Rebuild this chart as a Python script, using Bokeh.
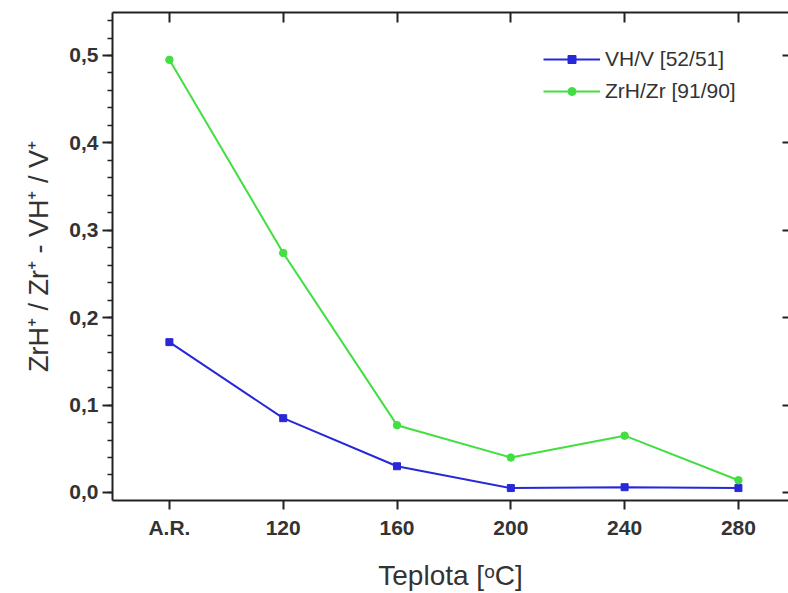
from bokeh.plotting import figure
from bokeh.models import (LinearAxis, FixedTicker, SingleIntervalTicker,
                          CustomJSTickFormatter, CustomLabelingPolicy,
                          Legend, LegendItem, Range1d)
from bokeh.embed import file_html
from bokeh.resources import INLINE

# ---- data ----
categories = ["A.R.", "120", "160", "200", "240", "280"]
vh_v = [0.172, 0.085, 0.030, 0.005, 0.006, 0.005]
zrh_zr = [0.495, 0.274, 0.077, 0.040, 0.065, 0.014]
series_names = ["VH/V [52/51]", "ZrH/Zr [91/90]"]
x_title = "Teplota [\u1d52C]"
y_title = "ZrH\u207a / Zr\u207a - VH\u207a / V\u207a"

x = list(range(len(categories)))

BLUE = "#2828d8"
GREEN = "#42de42"
AX = "#222222"
TXT = "#333333"
FONT = "Liberation Sans"

p = figure(width=788, height=593, output_backend="svg", toolbar_location=None,
           x_range=Range1d(-0.5, 5.44), y_range=Range1d(-0.0092, 0.5492),
           min_border_left=112, min_border_right=0, min_border_top=12,
           min_border_bottom=93)
p.outline_line_color = None
p.background_fill_color = "white"
p.border_fill_color = "white"
p.grid.visible = False

# bottom axis
xa = p.xaxis[0]
xa.ticker = FixedTicker(ticks=x)
xa.major_label_overrides = {i: c for i, c in zip(x, categories)}
xa.axis_label = x_title
# left axis
ya = p.yaxis[0]
ya.ticker = SingleIntervalTicker(interval=0.1, num_minor_ticks=5)
ya.formatter = CustomJSTickFormatter(code="return tick.toFixed(1).replace('.', ',');")
ya.axis_label = y_title

for ax in (xa, ya):
    ax.axis_line_color = AX
    ax.axis_line_width = 2
    ax.major_tick_line_color = AX
    ax.major_tick_line_width = 2
    ax.minor_tick_line_color = AX
    ax.minor_tick_line_width = 1.5
    ax.major_tick_in = 0
    ax.minor_tick_in = 0
    ax.major_label_text_font = FONT
    ax.major_label_text_font_style = "bold"
    ax.major_label_text_font_size = "21px"
    ax.major_label_text_color = TXT
    ax.axis_label_text_font = FONT
    ax.axis_label_text_font_style = "normal"
    ax.axis_label_text_color = TXT

xa.major_tick_out = 9
xa.minor_tick_out = 0
xa.major_label_standoff = 6
xa.axis_label_text_font_size = "28px"
xa.axis_label_standoff = 18

ya.major_tick_out = 10
ya.minor_tick_out = 5
ya.major_label_standoff = 4
ya.axis_label_text_font_size = "27px"
ya.axis_label_standoff = 12

# policy that draws no labels (mirror axes carry ticks only)
no_labels = CustomLabelingPolicy(code="for (const i of indices) { indices.unset(i) } return indices")

# top axis: line + inward ticks
top = LinearAxis(ticker=FixedTicker(ticks=x), major_label_policy=no_labels,
                 major_label_standoff=0, major_tick_in=10, major_tick_out=0,
                 minor_tick_in=0, minor_tick_out=0, axis_line_color=AX,
                 axis_line_width=2, major_tick_line_color=AX, major_tick_line_width=2,
                 major_label_text_font_size="0px")
p.add_layout(top, "above")

# right axis: inward ticks only (frame edge cut off in reference)
right = LinearAxis(ticker=SingleIntervalTicker(interval=0.1, num_minor_ticks=0),
                   major_label_policy=no_labels, major_label_standoff=0,
                   major_tick_in=6, major_tick_out=0, minor_tick_in=0, minor_tick_out=0,
                   axis_line_color=None, major_tick_line_color=AX,
                   major_tick_line_width=2, major_label_text_font_size="0px")
p.add_layout(right, "right")

# series
l1 = p.line(x, vh_v, line_color=BLUE, line_width=2)
m1 = p.scatter(x, vh_v, marker="square", size=7, fill_color=BLUE, line_color=BLUE)
l2 = p.line(x, zrh_zr, line_color=GREEN, line_width=2)
m2 = p.scatter(x, zrh_zr, marker="circle", size=7.5, fill_color=GREEN, line_color=GREEN)

legend = Legend(items=[LegendItem(label=series_names[0], renderers=[l1, m1]),
                       LegendItem(label=series_names[1], renderers=[l2, m2])],
                location=(431, 397))
legend.border_line_color = None
legend.background_fill_alpha = 0
legend.padding = 0
legend.margin = 0
legend.spacing = 8
legend.glyph_width = 57
legend.glyph_height = 20
legend.label_height = 20
legend.label_standoff = 5
legend.label_text_font = FONT
legend.label_text_font_size = "21px"
legend.label_text_color = TXT
p.add_layout(legend)

open("out.html", "w").write(file_html(p, INLINE))
